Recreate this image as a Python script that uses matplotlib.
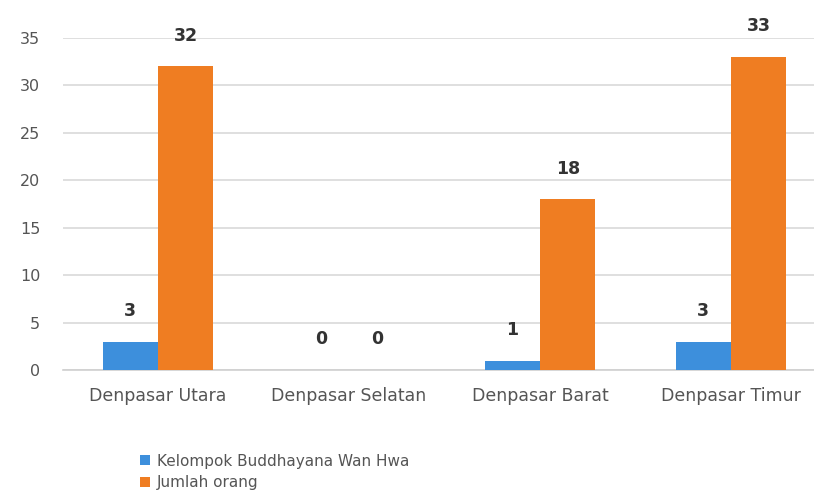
import matplotlib.pyplot as plt
import numpy as np

kecamatan = ['Denpasar Utara', 'Denpasar Selatan', 'Denpasar Barat', 'Denpasar Timur']
kelompok = [3, 0, 1, 3]
jumlah_orang = [32, 0, 18, 33]
series_names = ['Kelompok Buddhayana Wan Hwa', 'Jumlah orang']
y_ticks = [0, 5, 10, 15, 20, 25, 30, 35]

blue = '#3d8fdc'
orange = '#ef7d22'


def grafico():
    fig = plt.figure(figsize=(8.14, 5.0), dpi=100)
    ax = fig.add_axes([0.0768, 0.26, 0.9386, 0.664])

    x = np.arange(len(kecamatan))
    w = 0.29
    b1 = ax.bar(x - w / 2, kelompok, w, color=blue, label=series_names[0], zorder=3)
    b2 = ax.bar(x + w / 2, jumlah_orang, w, color=orange, label=series_names[1], zorder=3)

    for bars in (b1, b2):
        for rect in bars:
            h = rect.get_height()
            ax.annotate(str(int(h)), (rect.get_x() + rect.get_width() / 2, h),
                        xytext=(0, 22), textcoords='offset points',
                        ha='center', va='center', fontsize=12.5,
                        fontweight='bold', color='#333333')

    ax.set_xlim(-0.5, 3.5)
    ax.set_ylim(0, 35)
    ax.set_yticks(y_ticks)
    ax.set_xticks(x)
    ax.set_xticklabels(kecamatan)
    ax.tick_params(axis='both', length=0, labelcolor='#555555')
    ax.tick_params(axis='y', pad=16, labelsize=11.5)
    ax.tick_params(axis='x', pad=12, labelsize=12.5)
    ax.grid(axis='y', color='#d9d9d9', linewidth=1.2, zorder=0)
    for s in ['top', 'right', 'left']:
        ax.spines[s].set_visible(False)
    ax.spines['bottom'].set_color('#d0d0d0')
    ax.spines['bottom'].set_linewidth(1.2)

    fig.legend(loc='upper left', bbox_to_anchor=(0.165, 0.105), ncol=1,
               frameon=False, fontsize=11, labelcolor='#555555',
               handlelength=0.6, handleheight=0.6, handletextpad=0.5,
               labelspacing=0.45, borderaxespad=0)

    fig.savefig('out.png', dpi=100)


if __name__ == '__main__':
    grafico()
